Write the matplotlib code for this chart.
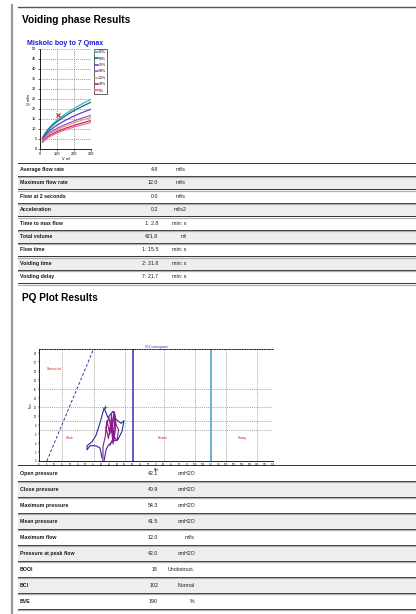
import matplotlib.pyplot as plt
from matplotlib.lines import Line2D

FONT = 'Liberation Sans'
W, H = 416, 614
ROW_H1 = 13.4
ROW_H2 = 16.0
TITLE_SIZE = 7.3
ROW_SIZE = 3.8

plt.rcParams['font.family'] = [FONT, 'DejaVu Sans']

# ---- uroflow nomogram (Miskolc boy to 7 Qmax) ----
volume = [15, 30, 50, 75, 100, 150, 200, 250, 300]
pct_labels = ['95%', '90%', '75%', '50%', '25%', '10%', '5%']
pct_colors = ['#3fb6c6', '#0f6f78', '#6a3fc0', '#a050d0', '#d4aa80', '#e0203c', '#e070b0']
q95 = [5.8, 8.0, 10.3, 12.5, 14.5, 17.6, 20.3, 22.7, 24.8]
q90 = [5.4, 7.5, 9.7, 11.8, 13.7, 16.6, 19.2, 21.4, 23.4]
q75 = [4.9, 6.7, 8.6, 10.4, 11.9, 14.4, 16.5, 18.3, 19.9]
q50 = [4.4, 6.0, 7.6, 9.1, 10.3, 12.3, 14.0, 15.5, 16.8]
q25 = [4.1, 5.6, 7.1, 8.5, 9.6, 11.5, 13.1, 14.5, 15.7]
q10 = [3.6, 5.0, 6.4, 7.6, 8.7, 10.4, 11.8, 13.1, 14.2]
q05 = [3.2, 4.5, 5.8, 7.0, 8.0, 9.6, 11.0, 12.2, 13.2]
patient_volume = [105]
patient_qmax = [17.2]

table1_labels = ['Average flow rate', 'Maximum flow rate', 'Flow at 2 seconds', 'Acceleration',
                 'Time to max flow', 'Total volume', 'Flow time', 'Voiding time', 'Voiding delay']
table1_values = ['4.8', '12.0', '0.0', '0.2', '1: 2.8', '421.8', '1: 15.5', '2: 31.8', '7: 21.7']
table1_units = ['ml/s', 'ml/s', 'ml/s', 'ml/s2', 'min: s', 'ml', 'min: s', 'min: s', 'min: s']

# ---- PQ plot (pressure cmH2O, flow ml/s) ----
pq_p_blue = [40.4, 39.1, 36.5, 32.7, 30.8, 30.8, 34.0, 36.5, 39.0, 41.7, 44.2, 47.4, 49.4,
             52.6, 54.5, 53.2, 50.6, 46.8, 44.2, 43.0, 41.7]
pq_q_blue = [0.7, 2.9, 3.4, 3.4, 2.5, 3.4, 4.3, 5.7, 8.4, 11.8, 9.7, 11.1, 9.3,
             8.4, 9.0, 6.6, 4.8, 4.3, 3.4, 2.5, 0.0]
pq_p_mag = [41.0, 41.0, 42.5, 43.5, 45.5, 46.5, 47.8, 48.5, 49.0, 47.5, 46.0, 44.5, 43.0,
            44.8, 46.5, 48.2, 49.5, 51.0, 50.0, 48.0, 45.5]
pq_q_mag = [0.0, 3.2, 5.5, 9.0, 6.0, 10.5, 4.5, 10.8, 7.0, 3.8, 8.5, 5.0, 7.5,
            9.8, 6.5, 11.0, 8.0, 7.0, 4.5, 5.5, 3.5]
peak_p = [42.0]
peak_q = [12.0]
pq_grid_p = [15, 35, 55, 80, 100, 120, 140]
pq_grid_q = [7, 9, 12, 16]
diag_p = [5, 35]
diag_q = [0, 25]
booi_line_p = 60
bci_line_p = 110
zone_labels = ['Obstructed', 'Weak', 'Normal', 'Strong']
zone_p = [10, 20, 79, 130]
zone_q = [20.6, 5.2, 5.2, 5.2]

table2_labels = ['Open pressure', 'Close pressure', 'Maximum pressure', 'Mean pressure',
                 'Maximum flow', 'Pressure at peak flow', 'BOOI', 'BCI', 'BVE']
table2_values = ['42.1', '40.9', '54.3', '41.5', '12.0', '42.0', '18', '102', '190']
table2_units = ['cmH2O', 'cmH2O', 'cmH2O', 'cmH2O', 'ml/s', 'cmH2O', 'Unobstruct.', 'Normal', '%']


def draw_table(page, top, row_h, labels, values, units, unit_x):
    for i, (lab, val, unit) in enumerate(zip(labels, values, units)):
        y0 = top + i * row_h
        if i % 2 == 1:
            page.fill_between([18, W], y0, y0 + row_h, color='#eeeeee', lw=0)
        yc = y0 + row_h / 2 + 0.3
        page.text(20, yc, lab, fontsize=ROW_SIZE, fontweight='bold', color='#1a1a1a', va='center')
        page.text(158, yc, val, fontsize=ROW_SIZE, color='#1a1a1a', va='center', ha='right')
        page.text(unit_x, yc, unit, fontsize=ROW_SIZE, color='#1a1a1a', va='center', ha='right')
    for i in range(len(labels) + 1):
        y = top + i * row_h
        page.plot([18, W], [y, y], color='#333333', lw=0.7)
        if i > 0:
            page.plot([18, W], [y + 1.4, y + 1.4], color='#b0b0b0', lw=0.9)


def draw_nomogram(fig):
    ax = fig.add_axes([40 / W, 1 - 149 / H, 51 / W, 100 / H])
    curves = [q95, q90, q75, q50, q25, q10, q05]
    handles = []
    for q, c, lab in zip(curves, pct_colors, pct_labels):
        ax.plot(volume, q, color=c, lw=0.9)
        handles.append(Line2D([], [], color=c, lw=1.2, label=lab))
    ax.plot(patient_volume, patient_qmax, 'x', color='#e02020', ms=3, mew=0.8)
    ax.set_xlim(0, 300)
    ax.set_ylim(0, 50)
    ax.set_xticks([0, 100, 200, 300])
    ax.set_yticks(range(0, 51, 5))
    ax.grid(True, ls=(0, (1.5, 1.5)), color='#777777', lw=0.5)
    ax.tick_params(labelsize=2.8, length=1.5, width=0.4, pad=1)
    for s in ['top', 'right']:
        ax.spines[s].set_visible(False)
    for s in ['left', 'bottom']:
        ax.spines[s].set_linewidth(0.6)
    ax.set_xlabel('V ml', fontsize=2.8, labelpad=0.5)
    ax.set_ylabel('Q ml/s', fontsize=2.8, labelpad=1)
    leg = ax.legend(handles=handles, loc='upper left', bbox_to_anchor=(92 / W, 1 - 47 / H),
                    bbox_transform=fig.transFigure, fontsize=2.5, handlelength=0.8,
                    handletextpad=0.3, borderpad=0.4, labelspacing=0.7,
                    fancybox=False, edgecolor='#222222', framealpha=1)
    leg.get_frame().set_linewidth(0.5)


def draw_pq(fig):
    ax = fig.add_axes([39 / W, 1 - 461 / H, 234 / W, 112 / H])
    for p in pq_grid_p:
        ax.axvline(p, color='#888888', ls=(0, (1.5, 1.5)), lw=0.5)
    for q in pq_grid_q:
        ax.axhline(q, color='#888888', ls=(0, (1.5, 1.5)), lw=0.5)
    ax.plot(diag_p, diag_q, color='#3a3a9a', ls=(0, (3, 2)), lw=0.7)
    ax.axvline(booi_line_p, color='#3030b8', lw=1.1)
    ax.axvline(bci_line_p, color='#5aaed0', lw=1.3)
    ax.plot(pq_p_blue, pq_q_blue, color='#2a2aa0', lw=0.8)
    ax.plot(pq_p_mag, pq_q_mag, color='#8a1a8a', lw=0.8)
    ax.plot(peak_p, peak_q, '+', color='#20a020', ms=2.5, mew=0.8)
    for lab, p, q in zip(zone_labels, zone_p, zone_q):
        ax.text(p, q, lab, fontsize=2.2, color='#d02020', ha='center', va='center')
    ax.set_xlim(0, 150)
    ax.set_ylim(0, 25)
    ax.set_xticks(range(0, 151, 5))
    ax.set_yticks(range(0, 25, 2))
    ax.tick_params(labelsize=1.8, length=1, width=0.3, pad=0.8)
    ax.spines['right'].set_visible(False)
    ax.spines['top'].set_linestyle((0, (1.5, 1.5)))
    ax.spines['top'].set_linewidth(0.6)
    ax.spines['left'].set_linewidth(0.6)
    ax.spines['bottom'].set_linewidth(0.6)
    ax.set_xlabel('Pdet', fontsize=1.8, labelpad=0.3)
    ax.set_ylabel('Flow', fontsize=1.8, labelpad=0.8)
    ax.set_title('ICS nomogram', fontsize=2.4, color='#3030c0', pad=0.8)


fig = plt.figure(figsize=(W / 100, H / 100), dpi=100)
page = fig.add_axes([0, 0, 1, 1])
page.set_xlim(0, W)
page.set_ylim(H, 0)
page.axis('off')

# page frame
page.plot([11.5, 11.5], [5, H], color='#9a9a9a', lw=1.6)
page.plot([18, W], [6.8, 6.8], color='#555555', lw=1.0)

page.text(22, 20, 'Voiding phase Results', fontsize=TITLE_SIZE, fontweight='bold', va='center')
page.text(27, 43.5, 'Miskolc boy to 7 Qmax', fontsize=5.0, fontweight='bold', color='#1a1ad0', va='center')
draw_nomogram(fig)
draw_table(page, 162.5, ROW_H1, table1_labels, table1_values, table1_units, 186)

page.text(22, 298, 'PQ Plot Results', fontsize=TITLE_SIZE, fontweight='bold', va='center')
draw_pq(fig)
draw_table(page, 465, ROW_H2, table2_labels, table2_values, table2_units, 195)

fig.savefig('out.png', dpi=100)
